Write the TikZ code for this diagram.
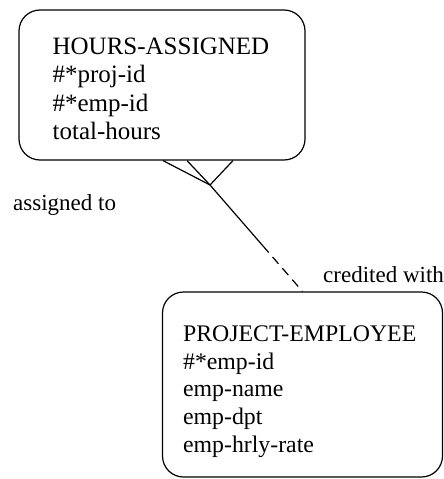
\documentclass[tikz,border=0pt]{standalone}
\usepackage{fontspec}
\setmainfont{Liberation Serif}
\usetikzlibrary{calc}

\begin{document}
\begin{tikzpicture}[
  x=1pt, y=-1pt,
  entity/.style={draw, line width=1.2pt, rounded corners=21pt, inner sep=0pt},
  attrs/.style={align=left, anchor=north west, inner sep=0pt},
  link/.style={line width=1.2pt},
  role/.style={font=\fontsize{23}{26}\selectfont, anchor=base west, inner sep=0pt}
]
  \useasboundingbox (0,0) rectangle (444,479);

  % Entita
  \node[entity, minimum width=286pt, minimum height=150pt] (hours) at (162,85) {};
  \node[attrs, font=\fontsize{25}{28.3}\selectfont] (hours-txt)
    at ($(hours.north west)+(34,28.5)$)
    {HOURS-ASSIGNED\\ \#*proj-id\\ \#*emp-id\\ total-hours};

  \node[entity, minimum width=280pt, minimum height=185pt] (emp) at (302.5,384.5) {};
  \node[attrs, font=\fontsize{23.8}{27.8}\selectfont] (emp-txt)
    at ($(emp.north west)+(21,34)$)
    {PROJECT-EMPLOYEE\\ \#*emp-id\\ emp-name\\ emp-dpt\\ emp-hrly-rate};

  % Zampa di gallina (molti) su HOURS-ASSIGNED
  \coordinate (foot) at (210,185);
  \draw[link] ($(foot |- hours.south)+(-47,0)$) -- (foot);
  \draw[link] ($(foot |- hours.south)+(-23,0)$) -- (foot);
  \draw[link] ($(foot |- hours.south)+(23,0)$) -- (foot);

  % Relazione: tratto pieno, poi tratteggiato
  \draw[link] (foot) -- ($(foot)!0.57!(emp.north)$) coordinate (brk);
  \draw[link, dash pattern=on 9pt off 6pt] (brk) -- (emp.north);

  % Ruoli
  \node[role] (asg) at (13,210) {assigned to};
  \node[role] (crd) at (323,282) {credited with};

\end{tikzpicture}
\end{document}
